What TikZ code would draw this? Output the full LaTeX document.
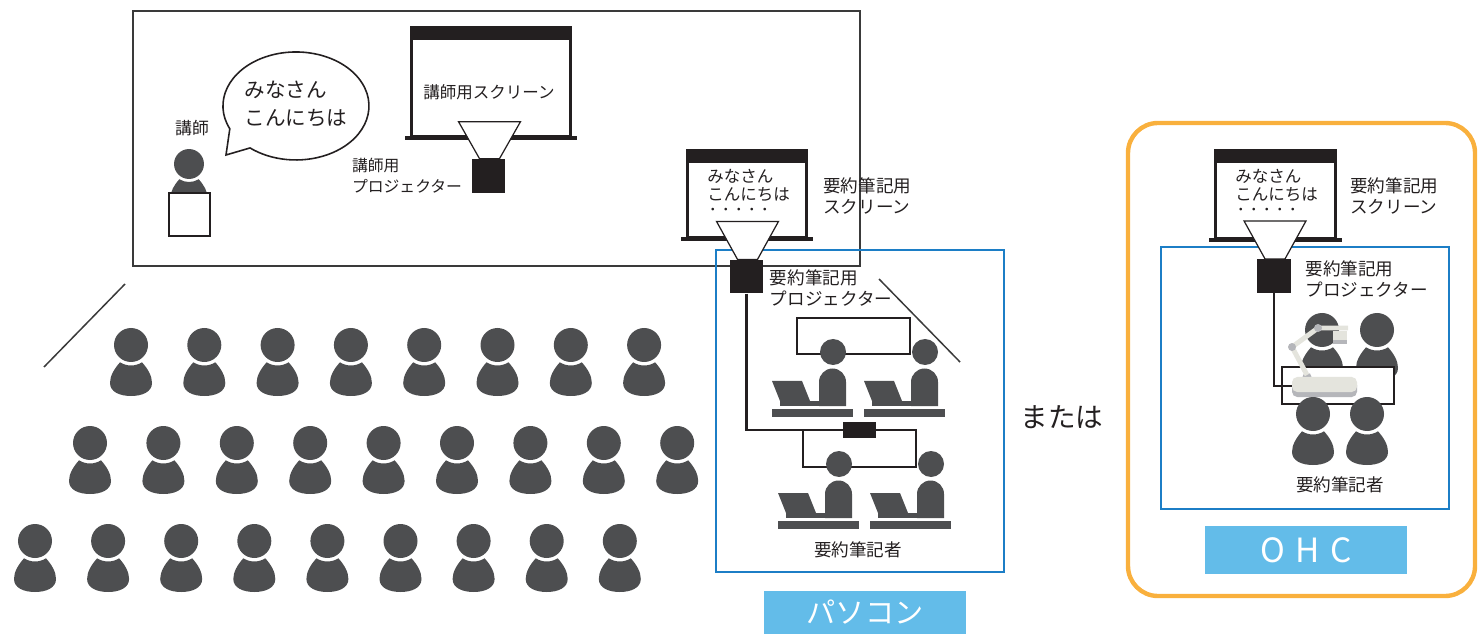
\documentclass[tikz,border=0pt]{standalone}
\usepackage{fontspec}
\setmainfont{Noto Sans CJK JP}
\usetikzlibrary{positioning}

\definecolor{ink}{HTML}{231F20}
\definecolor{figgray}{HTML}{4D4E50}
\definecolor{linegray}{HTML}{3A3A3A}
\definecolor{boxblue}{HTML}{1C7EC6}
\definecolor{tagblue}{HTML}{63BCE9}
\definecolor{ohcorange}{HTML}{F9B03D}
\definecolor{armgray}{HTML}{E4E4DD}
\definecolor{jointgray}{HTML}{B5B6BA}

% screen: #1,#2 top left corner, #3,#4 bottom right of the white frame
\newcommand{\drawscreen}[4]{%
  \fill[ink] (#1,#2) rectangle (#3,#2+13);
  \draw[ink, line width=1.5pt] (#1+1.3,#2+13) rectangle (#3-1.3,#4);
  \fill[ink] (#1-5,#4) rectangle (#3+5,#4+4);
}

\tikzset{
  person/.pic={
    \fill[figgray] (11,17.3) arc[start angle=57.6, end angle=122.4, radius=20.5]
      .. controls (-17,24) and (-21,31) .. (-21,38)
      .. controls (-21,47) and (-11,51) .. (0,51)
      .. controls (11,51) and (21,47) .. (21,38)
      .. controls (21,31) and (17,24) .. (11,17.3) -- cycle;
    \fill[figgray] (0,0) circle[radius=17];
  },
  writer/.pic={
    \fill[figgray] (0,0) circle[radius=13];
    \fill[figgray] (-14,54) -- (-14,30) arc[start angle=180, end angle=360, radius=13.5] -- (13,54) -- cycle;
    \fill[figgray] (-61,29) -- (-31,29) -- (-23,49) -- (-53,49) -- cycle;
    \fill[figgray] (-53,49) rectangle (-6,54);
    \fill[figgray] (-61,57) rectangle (20,65);
  },
  lbl/.style={text=ink, inner sep=0pt, font=\fontsize{10}{12.5}\selectfont, align=left},
  scrtext/.style={text=ink, inner sep=0pt, anchor=west, font=\fontsize{9.4}{11}\selectfont},
  projector/.style={fill=ink, inner sep=0pt, minimum width=0.67cm, minimum height=0.67cm},
  hub/.style={fill=ink, inner sep=0pt, minimum width=0.66cm, minimum height=0.32cm},
  beam/.style={draw=ink, line width=0.7pt, fill=white},
  cable/.style={draw=ink, line width=1.4pt},
  desk/.style={draw=ink, line width=0.8pt},
  bluetag/.style={fill=tagblue, text=white, inner sep=0pt, minimum width=4.04cm},
}

\begin{document}
\begin{tikzpicture}[x=0.02cm, y=-0.02cm]
\useasboundingbox (0,0) rectangle (1479,634);

% stage and hall walls
\draw[linegray, line width=0.85pt] (133,11) rectangle (860,266);
\draw[linegray, line width=0.85pt] (44,367) -- (125,284);
\draw[linegray, line width=0.85pt] (879,279) -- (960,362);

% lecturer with speech bubble
\node[lbl, font=\fontsize{9.6}{11}\selectfont] (lect) at (192,128) {講師};
\pic[scale=0.88] at (189,164) {person};
\draw[ink, line width=0.8pt, fill=white] (169,193) rectangle (210,236);
\draw[ink, line width=0.9pt, fill=white] (229.8,128.8) arc[start angle=155, end angle=489, x radius=73, y radius=54] -- (226,155) -- cycle;
\node[lbl, font=\fontsize{11.7}{16.4}\selectfont] (greet) at (296,104) {みなさん\\こんにちは};

% lecturer screen and projector
\drawscreen{410}{26}{572}{136}
\node[text=ink, inner sep=0pt, font=\fontsize{9.4}{11}\selectfont] (scrL) at (489,92) {講師用スクリーン};
\node[projector, minimum height=0.68cm] (projL) at (488.5,176) {};
\draw[beam] (projL.north) ++(-9,0) -- ++(-21,-37) -- ++(62,0) -- ++(-21,37) -- cycle;
\node[lbl, font=\fontsize{9}{11.9}\selectfont, left=0.18cm of projL] (projLlbl) {講師用\\プロジェクター};

% audience
\foreach \i in {0,...,7} \pic at ({131+73.3*\i},345) {person};
\foreach \i in {0,...,8} \pic at ({90+73.4*\i},443) {person};
\foreach \i in {0,...,8} \pic at ({35+73.1*\i},541) {person};

% PC captioning
\draw[boxblue, line width=1.1pt] (716,250) rectangle (1004,572);
\drawscreen{686}{149}{808}{237}
\node[scrtext] (scrS1) at (707,176.5) {みなさん};
\node[scrtext] (scrS2) at (707,195) {こんにちは};
\node[scrtext, font=\fontsize{7.4}{8}\selectfont] (scrS3) at (706,211) {・・・・・};
\node[lbl, anchor=west] (scrSlbl) at (823,196) {要約筆記用\\スクリーン};
\node[projector] (projS) at (746.5,276.5) {};
\draw[beam] (projS.north) ++(-9,0) -- ++(-21,-38) -- ++(62,0) -- ++(-21,38) -- cycle;
\node[lbl, below right=0.19cm and 0.12cm of projS.north east] (projSlbl) {要約筆記用\\プロジェクター};

\draw[desk] (797,318) rectangle (910,354);
\pic at (833,352) {writer};
\pic at (925,352) {writer};
\draw[desk] (803,430) rectangle (916,467);
\node[hub] (hub) at (859.5,430) {};
\draw[cable] (projS.south) |- (hub.west);
\pic at (839,464) {writer};
\pic at (931,464) {writer};
\node[lbl] (pcwr) at (858,550) {要約筆記者};
\node[bluetag, minimum height=0.86cm, font=\fontsize{16.6}{18}\selectfont] (pc) at (865,612.5) {パソコン};

\node[text=ink, inner sep=0pt, font=\fontsize{15.7}{18}\selectfont] (or) at (1062,417) {または};

% OHC captioning
\draw[ohcorange, line width=2.5pt, rounded corners=0.6cm] (1128,123) rectangle (1475,596);
\draw[boxblue, line width=1.1pt] (1161,247) rectangle (1449,509);
\drawscreen{1214}{149}{1337}{238}
\node[scrtext] (scrO1) at (1235,176.5) {みなさん};
\node[scrtext] (scrO2) at (1235,195) {こんにちは};
\node[scrtext, font=\fontsize{7.4}{8}\selectfont] (scrO3) at (1234,211) {・・・・・};
\node[lbl, anchor=west] (scrOlbl) at (1350,196) {要約筆記用\\スクリーン};
\node[projector] (projO) at (1274,276) {};
\draw[beam] (projO.north) ++(-9,0) -- ++(-21,-38) -- ++(62,0) -- ++(-21,38) -- cycle;
\node[lbl, below right=0.02cm and 0.28cm of projO.north east] (projOlbl) {要約筆記用\\プロジェクター};

\pic at (1322,330) {person};
\pic at (1377,330) {person};
\draw[desk, fill=white] (1282,367) rectangle (1394,404);
% document camera
\fill[jointgray] (1307,377) circle[radius=4.5];
\draw[armgray, line width=2.8pt] (1307,375) -- (1292,347) -- (1318,328) -- (1348,328);
\fill[jointgray] (1292,347) circle[radius=4];
\fill[jointgray] (1318,328) circle[radius=4];
\fill[jointgray] (1333,336) rectangle (1347,344);
\fill[armgray] (1333,331) rectangle (1347,340);
\fill[jointgray, rounded corners=3pt] (1292,380) rectangle (1357,397);
\fill[armgray, rounded corners=3pt] (1292,377) rectangle (1357,392);
\coordinate (ohcin) at (1292,386);
\draw[cable] (projO.south) |- (ohcin);
\pic at (1313,414) {person};
\pic at (1367,414) {person};
\node[lbl] (ohcwr) at (1340,485) {要約筆記者};
\node[bluetag, minimum height=0.96cm, font=\fontsize{19}{21}\selectfont] (ohc) at (1306,550) {O\hspace{6pt}H\hspace{6pt}C};
\end{tikzpicture}
\end{document}
